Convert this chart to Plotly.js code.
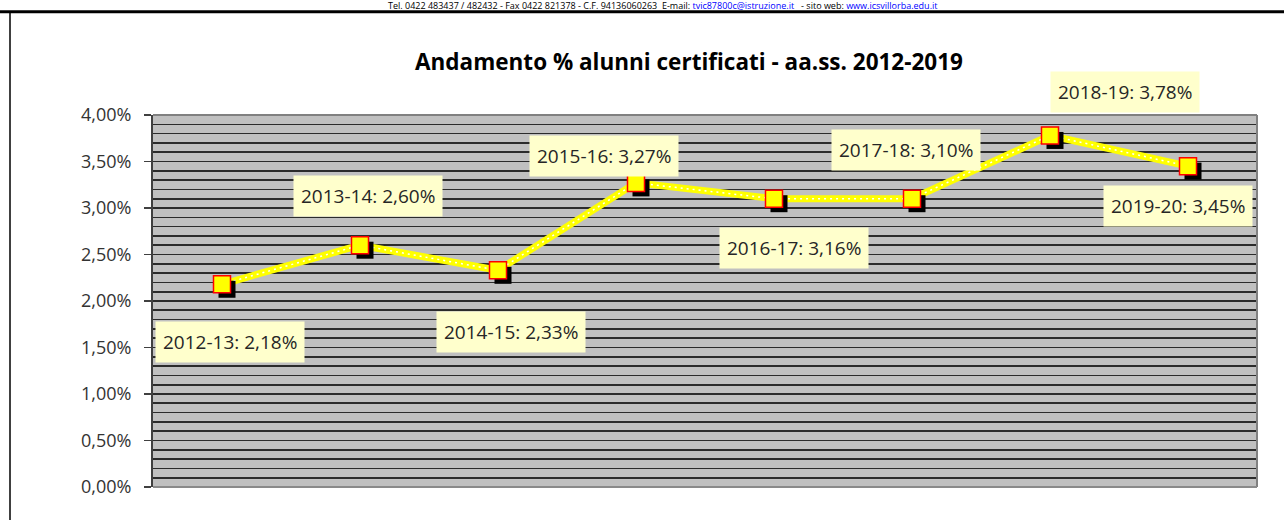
<!DOCTYPE html>
<html><head><meta charset="utf-8">
<script src="https://cdn.plot.ly/plotly-3.0.1.min.js"></script>
<style>html,body{margin:0;padding:0;background:#fff}#chart{width:1284px;height:520px}</style>
</head><body><div id="chart"></div>
<script>
// ---- data ----
const categories = ['2012-13','2013-14','2014-15','2015-16','2016-17','2017-18','2018-19','2019-20'];
const values = [2.18, 2.60, 2.33, 3.27, 3.10, 3.10, 3.78, 3.45];
const labelValues = ['2,18%','2,60%','2,33%','3,27%','3,16%','3,10%','3,78%','3,45%'];
const yTickVals = [0, 0.5, 1, 1.5, 2, 2.5, 3, 3.5, 4];
const yTickText = ['0,00%','0,50%','1,00%','1,50%','2,00%','2,50%','3,00%','3,50%','4,00%'];
const titleText = 'Andamento % alunni certificati - aa.ss. 2012-2019';

// ---- styling (label offsets in px, not data) ----
const labelShiftX = [8, 8, 13, -32, 20, -6, 75, -10];
const labelShiftY = [-58, 49, -62, 27, -49, 49, 43, -40];

const FONT = 'Open Sans, Noto Sans, sans-serif';
const W = 1104, H = 372;           // plot area size in px
const shX = 5 / (W / 8), shY = 5 / (H / 4);   // shadow offset in axis units

const traces = [
  { x: categories, y: values, type: 'scatter', mode: 'lines', xaxis: 'x', yaxis: 'y',
    line: { color: '#ffff00', width: 7 }, hoverinfo: 'skip' },
  { x: categories, y: values, type: 'scatter', mode: 'lines', xaxis: 'x', yaxis: 'y',
    line: { color: '#ffffff', width: 1.5, dash: '2px,4px' }, hoverinfo: 'skip' },
  { x: categories, y: values, type: 'scatter', mode: 'markers', xaxis: 'x2', yaxis: 'y2',
    marker: { symbol: 'square', size: 17, color: '#000000', line: { width: 0 } }, hoverinfo: 'skip' },
  { x: categories, y: values, type: 'scatter', mode: 'markers', xaxis: 'x3', yaxis: 'y3',
    marker: { symbol: 'square', size: 17, color: '#ffff00', line: { color: '#ff0000', width: 1.5 } },
    hovertemplate: '%{x}: %{y:.2f}%<extra></extra>' }
];

const annotations = categories.map((c, i) => ({
  x: i, y: values[i], xref: 'x', yref: 'y', showarrow: false,
  text: c + ': ' + labelValues[i],
  xanchor: 'center', yanchor: 'middle',
  xshift: labelShiftX[i], yshift: labelShiftY[i],
  bgcolor: '#ffffcc', borderpad: 7,
  font: { family: FONT, size: 19, color: '#262626' }
}));

// page header above the frame (cut off in the source page)
annotations.push({
  xref: 'paper', yref: 'paper', x: (662 - 153) / W, y: (487 - 5) / H,
  xanchor: 'center', yanchor: 'middle', showarrow: false, borderpad: 0,
  text: 'Tel. 0422 483437 / 482432 - Fax 0422 821378 - C.F. 94136060263  E-mail: ' +
        '<span style="color:#0000ff">tvic87800c@istruzione.it</span>' +
        '   - sito web: ' +
        '<span style="color:#0000ff">www.icsvillorba.edu.it</span>',
  font: { family: FONT, size: 9, color: '#000' }
});

const px = v => (v - 153) / W;
const py = v => (487 - v) / H;

const shapes = [
  { type: 'line', xref: 'paper', yref: 'paper', x0: 0, x1: 1, y0: 1, y1: 1, line: { color: '#808080', width: 2 }, layer: 'above' },
  { type: 'line', xref: 'paper', yref: 'paper', x0: 1, x1: 1, y0: 0, y1: 1, line: { color: '#808080', width: 2 }, layer: 'above' },
  { type: 'line', xref: 'paper', yref: 'paper', x0: 0, x1: 1, y0: 0, y1: 0, line: { color: '#8a8a8a', width: 2 }, layer: 'above' },
  { type: 'line', xref: 'paper', yref: 'paper', x0: px(0), x1: px(1290), y0: py(11.7), y1: py(11.7), line: { color: '#000', width: 3 } },
  { type: 'line', xref: 'paper', yref: 'paper', x0: px(10), x1: px(10), y0: py(11.7), y1: py(530), line: { color: '#000', width: 1.5 } }
];

const hiddenX = { type: 'category', categoryarray: categories, categoryorder: 'array', visible: false, fixedrange: true };
const hiddenY = { visible: false, fixedrange: true };

const layout = {
  width: 1284, height: 520,
  margin: { l: 153, r: 27, t: 115, b: 33, pad: 0 },
  paper_bgcolor: '#ffffff', plot_bgcolor: '#c0c0c0',
  showlegend: false,
  title: {
    text: titleText, xref: 'container', yref: 'container',
    x: 689 / 1284, xanchor: 'center', y: 1 - 62 / 520, yanchor: 'middle',
    font: { family: FONT, size: 22.5, color: '#000', weight: 700 }
  },
  xaxis: { type: 'category', categoryarray: categories, categoryorder: 'array',
    range: [-0.5, 7.5], showticklabels: false, ticks: '', showgrid: false,
    zeroline: false, showline: false, fixedrange: true },
  yaxis: { range: [0, 4], tickvals: yTickVals, ticktext: yTickText,
    ticks: 'outside', ticklen: 7, tickwidth: 1.5, tickcolor: '#404040',
    ticklabelstandoff: 9,
    showline: true, linecolor: '#404040', linewidth: 2,
    showgrid: true, gridcolor: '#2b2b2b', gridwidth: 1.6, zeroline: false,
    minor: { tick0: 0, dtick: 0.1, showgrid: true, gridcolor: '#2b2b2b', gridwidth: 1.6, ticks: '' },
    tickfont: { family: FONT, size: 18, color: '#333333' }, fixedrange: true },
  xaxis2: Object.assign({}, hiddenX, { overlaying: 'x', range: [-0.5 - shX, 7.5 - shX] }),
  yaxis2: Object.assign({}, hiddenY, { overlaying: 'y', range: [0 + shY, 4 + shY] }),
  xaxis3: Object.assign({}, hiddenX, { overlaying: 'x', range: [-0.5, 7.5] }),
  yaxis3: Object.assign({}, hiddenY, { overlaying: 'y', range: [0, 4] }),
  annotations: annotations,
  shapes: shapes
};

Plotly.newPlot('chart', traces, layout, { displayModeBar: false, staticPlot: true });
</script>
</body></html>
